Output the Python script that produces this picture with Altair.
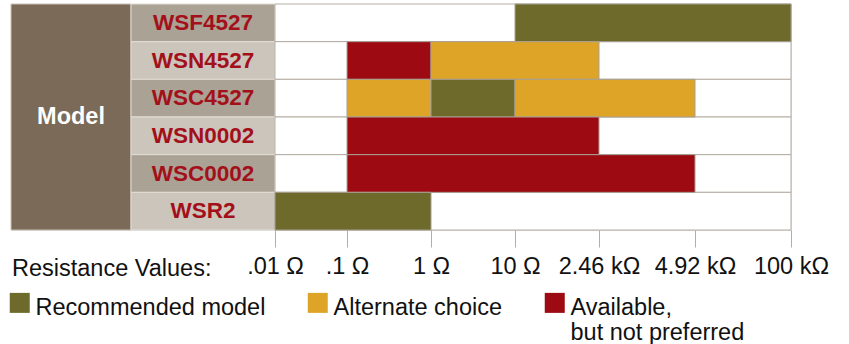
import altair as alt
import pandas as pd

models = ["WSF4527", "WSN4527", "WSC4527", "WSN0002", "WSC0002", "WSR2"]
tick_labels = [".01 Ω", ".1 Ω", "1 Ω", "10 Ω", "2.46 kΩ", "4.92 kΩ", "100 kΩ"]
categories = ["Recommended model", "Alternate choice", "Available, but not preferred"]
cat_colors = ["#6d6a2b", "#dea428", "#9d0a12"]

bar_model = ["WSF4527", "WSN4527", "WSN4527", "WSC4527", "WSC4527", "WSC4527",
             "WSN0002", "WSC0002", "WSR2"]
bar_start = ["10 Ω", ".1 Ω", "1 Ω", ".1 Ω", "1 Ω", "10 Ω", ".1 Ω", ".1 Ω", ".01 Ω"]
bar_end = ["100 kΩ", "1 Ω", "2.46 kΩ", "1 Ω", "10 Ω", "4.92 kΩ", "2.46 kΩ", "4.92 kΩ", "1 Ω"]
bar_cat = ["Recommended model", "Available, but not preferred", "Alternate choice",
           "Alternate choice", "Recommended model", "Alternate choice",
           "Available, but not preferred", "Available, but not preferred",
           "Recommended model"]

W, H = 780, 226
BORDER = "#b5ada2"
FONT = "Liberation Sans"
FS = 23.5

# x scale: -2..-1 "Model" column, -1..0 name column, 0..6 resistance ticks
xscale = alt.Scale(domain=[-2, -1, 0, 1, 2, 3, 4, 5, 6],
                   range=[0, 120, 264, 336, 420, 504, 588, 684, 780],
                   zero=False, nice=False)
label_map = "{" + ",".join(f"'{i}':'{t}'" for i, t in enumerate(tick_labels)) + "}"
xaxis = alt.Axis(values=list(range(len(tick_labels))), labelExpr=f"{label_map}[datum.value]",
                 title=None, domain=False, grid=False, tickSize=17, tickColor=BORDER,
                 tickWidth=1, labelFontSize=FS, labelFont=FONT, labelColor="#111111",
                 labelPadding=7, labelFlush=False, labelOverlap=False)
yscale = alt.Scale(domain=models, paddingInner=0, paddingOuter=0)
Y = alt.Y("model:N", scale=yscale, axis=None)

bars = pd.DataFrame({
    "model": bar_model,
    "start": [tick_labels.index(s) for s in bar_start],
    "end": [tick_labels.index(e) for e in bar_end],
    "category": bar_cat,
})
rows = pd.DataFrame({
    "model": models,
    "shade": ["#aaa294" if i % 2 == 0 else "#cbc5bc" for i in range(len(models))],
    "c0": -1, "c1": 0, "p0": 0, "p1": len(tick_labels) - 1, "cx": -0.5,
})
box = pd.DataFrame({"x0": [-2], "x1": [-1], "xm": [-1.5], "label": ["Model"]})
res = pd.DataFrame({"x": [-2], "label": ["Resistance Values:"]})

model_box = alt.Chart(box).mark_rect(fill="#7b6a57", stroke="#c9c2b6", strokeWidth=1).encode(
    x=alt.X("x0:Q", scale=xscale, axis=xaxis), x2="x1:Q",
    y=alt.value(0), y2=alt.value(H))
model_text = alt.Chart(box).mark_text(color="white", fontWeight="bold", fontSize=23.5,
                                      font=FONT).encode(
    x=alt.X("xm:Q", scale=xscale, axis=xaxis), y=alt.value(H / 2), text="label:N")
name_bg = alt.Chart(rows).mark_rect(stroke="#e2ddd5", strokeWidth=1).encode(
    x=alt.X("c0:Q", scale=xscale, axis=xaxis), x2="c1:Q", y=Y,
    fill=alt.Fill("shade:N", scale=None))
name_text = alt.Chart(rows).mark_text(color="#a3101b", fontWeight="bold", fontSize=22.5,
                                      font=FONT).encode(
    x=alt.X("cx:Q", scale=xscale, axis=xaxis), y=Y, text="model:N")
row_bg = alt.Chart(rows).mark_rect(fill="white", stroke=BORDER, strokeWidth=1).encode(
    x=alt.X("p0:Q", scale=xscale, axis=xaxis), x2="p1:Q", y=Y)
bar_layer = alt.Chart(bars).mark_rect(stroke="#a89f92", strokeWidth=1).encode(
    x=alt.X("start:Q", scale=xscale, axis=xaxis), x2="end:Q", y=Y,
    color=alt.Color("category:N",
                    scale=alt.Scale(domain=categories, range=cat_colors),
                    legend=alt.Legend(
                        orient="none", legendX=-3, legendY=280, direction="horizontal",
                        title=None, symbolType="M-1,-0.3H1V1.7H-1Z", symbolSize=400,
                        padding=0, symbolStrokeWidth=0, symbolOpacity=1,
                        labelFontSize=FS, labelFont=FONT, labelColor="#111111",
                        labelOffset=4, columnPadding=40, labelLimit=500,
                        labelBaseline="top",
                        labelExpr="datum.label == 'Available, but not preferred' ? ['Available,', 'but not preferred'] : [datum.label, '']")))
res_text = alt.Chart(res).mark_text(align="left", fontSize=FS, font=FONT, color="#111111",
                                    dx=1).encode(
    x=alt.X("x:Q", scale=xscale, axis=xaxis), y=alt.value(H + 39), text="label:N")

chart = alt.layer(model_box, model_text, name_bg, name_text, row_bg, bar_layer, res_text).properties(
    width=W, height=H, autosize="none",
    padding={"left": 11, "top": 4, "right": 58, "bottom": 114},
).configure_view(stroke=None).configure(font=FONT)

chart.save("out.html", embed_options={"renderer": "svg", "actions": False})
